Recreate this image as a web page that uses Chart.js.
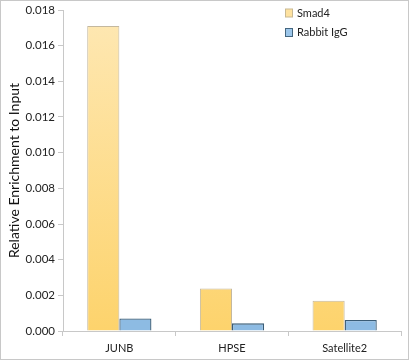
<!DOCTYPE html>
<html><head><meta charset="utf-8">
<script src="https://cdn.jsdelivr.net/npm/chart.js@4"></script>
<style>
html,body{margin:0;padding:0;background:#fff;}
#wrap{width:409px;height:360px;position:relative;}
</style></head>
<body><div id="wrap"><canvas id="c" width="409" height="360"></canvas></div>
<script>
const categories = ["JUNB", "HPSE", "Satellite2"];
const smad4 = [0.0171, 0.00238, 0.0017];
const rabbitIgG = [0.0007, 0.00043, 0.00062];
const seriesNames = ["Smad4", "Rabbit IgG"];
const yTitle = "Relative Enrichment to Input";

const FONT = "Lato, 'Open Sans', sans-serif";

function smadFill(c){
  const chart = c.chart;
  if(!chart.chartArea) return '#fdd9800';
  const g = chart.ctx.createLinearGradient(0, chart.chartArea.top, 0, chart.chartArea.bottom);
  g.addColorStop(0, '#fee8b4'); g.addColorStop(1, '#fdd36c');
  return g;
}
function igFill(c){
  const chart = c.chart;
  if(!chart.chartArea) return '#8dbbe3';
  const meta = chart.getDatasetMeta(1);
  const bar = meta.data[c.dataIndex];
  if(!bar || isNaN(bar.y)) return '#8dbbe3';
  const g = chart.ctx.createLinearGradient(0, bar.y, 0, bar.base);
  g.addColorStop(0, '#b3d5f0'); g.addColorStop(1, '#6aa2d4');
  return g;
}

const legendPlugin = {
  id:'customLegend',
  afterDraw(chart){
    const ctx = chart.ctx;
    ctx.save();
    ctx.strokeStyle = '#c8c8c8'; ctx.lineWidth = 1;
    ctx.strokeRect(0.5, 0.5, 408, 359);
    const items = [
      {t: seriesNames[0], f:'#fee2a0', s:'#c9b992'},
      {t: seriesNames[1], f:'#9cc6ea', s:'#44667f'}
    ];
    ctx.font = "11px " + FONT;
    ctx.textBaseline = 'middle';
    items.forEach((it,i)=>{
      const y = 13 + i*19.5;
      ctx.fillStyle = it.f; ctx.fillRect(285.5, y-4, 7, 8);
      ctx.strokeStyle = it.s; ctx.strokeRect(285.5, y-4, 7, 8);
      ctx.fillStyle = '#222';
      ctx.fillText(it.t, 297, y);
    });
    ctx.restore();
  }
};

new Chart(document.getElementById('c'), {
  type:'bar',
  data:{
    labels: categories,
    datasets:[
      {label: seriesNames[0], data: smad4, backgroundColor: smadFill, borderColor:'#c4b89e', borderWidth:1, borderSkipped:'bottom', barPercentage:1.0, categoryPercentage:0.57},
      {label: seriesNames[1], data: rabbitIgG, backgroundColor: igFill, borderColor:'#3a5c76', borderWidth:1.3, borderSkipped:'bottom', barPercentage:1.0, categoryPercentage:0.57}
    ]
  },
  options:{
    responsive:false, animation:false, devicePixelRatio:1,
    layout:{padding:{top:10, right:8, left:6, bottom:0}},
    plugins:{legend:{display:false}, tooltip:{enabled:false}},
    scales:{
      x:{
        grid:{display:true, drawOnChartArea:false, offset:true, color:'#c8c8c8', tickLength:5},
        border:{color:'#c8c8c8'},
        ticks:{color:'#222', font:{family:FONT, size:11}, padding:6},
        afterFit(s){ s.height = 29; }
      },
      y:{
        min:0, max:0.018,
        grid:{display:true, drawOnChartArea:false, color:'#c8c8c8', tickLength:5},
        border:{color:'#c8c8c8'},
        ticks:{stepSize:0.002, color:'#222', font:{family:FONT, size:11.5}, padding:3,
          callback:(v)=>Number(v).toFixed(3)},
        title:{display:true, text:yTitle, color:'#111', font:{family:FONT, size:14}, padding:{top:0,bottom:4}},
        afterFit(s){ s.width = 57; }
      }
    }
  },
  plugins:[legendPlugin]
});
</script></body></html>
